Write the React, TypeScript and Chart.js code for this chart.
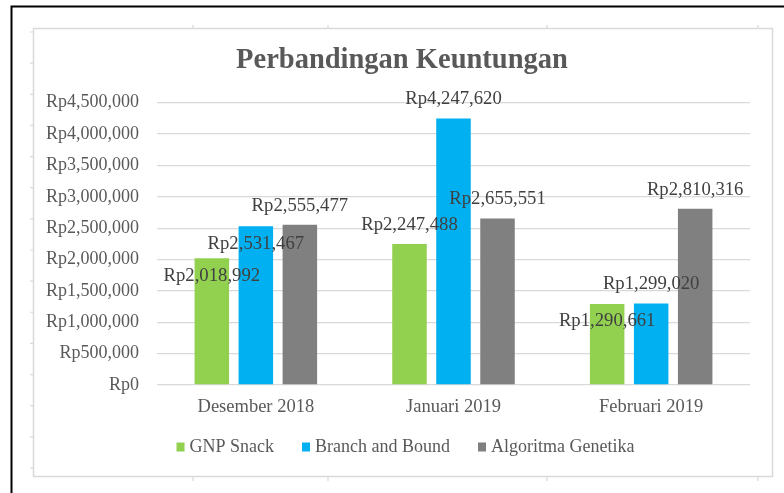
import React, { useEffect, useRef } from "react";
import { Chart, registerables } from "chart.js";

Chart.register(...registerables);

// ---- data ----
const categories = ["Desember 2018", "Januari 2019", "Februari 2019"];
const seriesNames = ["GNP Snack", "Branch and Bound", "Algoritma Genetika"];
const gnpSnack = [2018992, 2247488, 1290661];
const branchAndBound = [2531467, 4247620, 1299020];
const algoritmaGenetika = [2555477, 2655551, 2810316];
const yMin = 0;
const yMax = 4500000;
const yStep = 500000;
const chartTitle = "Perbandingan Keuntungan";

// ---- styling ----
const seriesColors = ["#92d050", "#00b0f0", "#808080"];
// data-label placement per series/category: "in" = inside end, "out" = outside end
const labelPlacement = [
  ["in", "out", "in"],
  ["in", "out", "out"],
  ["out", "out", "out"],
];
const FONT = "'Liberation Serif', 'Times New Roman', serif";
const TEXT_COLOR = "#595959";
const fmt = (v: number) => "Rp" + v.toLocaleString("en-US");

Chart.defaults.font.family = FONT;

const framePlugin = {
  id: "frameDecor",
  beforeDraw(chart: any) {
    const ctx = chart.ctx;
    ctx.save();
    ctx.fillStyle = "#ffffff";
    ctx.fillRect(0, 0, chart.width, chart.height);
    // inner light frame
    ctx.strokeStyle = "#d9d9d9";
    ctx.lineWidth = 1.5;
    ctx.strokeRect(33.5, 28.5, 739, 448);
    // small marks around frame
    ctx.lineWidth = 1.2;
    ctx.beginPath();
    for (let k = 0; k <= 14; k++) {
      const y = 32 + k * 31.14;
      ctx.moveTo(30, y);
      ctx.lineTo(33.5, y);
    }
    [193, 328, 547, 758].forEach((x) => {
      ctx.moveTo(x, 25);
      ctx.lineTo(x, 28.5);
      ctx.moveTo(x, 476.5);
      ctx.lineTo(x, 481);
    });
    ctx.stroke();
    // outer black border (top + left)
    ctx.strokeStyle = "#000000";
    ctx.lineWidth = 2;
    ctx.beginPath();
    ctx.moveTo(11.5, chart.height);
    ctx.lineTo(11.5, 6.5);
    ctx.lineTo(chart.width, 6.5);
    ctx.stroke();
    // title
    ctx.fillStyle = TEXT_COLOR;
    ctx.font = `bold 28.5px ${FONT}`;
    ctx.textAlign = "center";
    ctx.textBaseline = "middle";
    ctx.fillText(chartTitle, 402, 61);
    // legend (Excel-style spacing)
    ctx.font = `18px ${FONT}`;
    ctx.textAlign = "left";
    const box = 8, gapBoxText = 5, gapItem = 28, cy = 447;
    const widths = seriesNames.map((n) => ctx.measureText(n).width);
    const total =
      widths.reduce((s, w) => s + box + gapBoxText + w, 0) + gapItem * (seriesNames.length - 1);
    let x = 405.5 - total / 2;
    seriesNames.forEach((n, i) => {
      ctx.fillStyle = seriesColors[i];
      ctx.fillRect(x, cy - box / 2 - 0.5, box, box + 1);
      ctx.fillStyle = TEXT_COLOR;
      ctx.fillText(n, x + box + gapBoxText, cy);
      x += box + gapBoxText + widths[i] + gapItem;
    });
    ctx.restore();
  },
};

const labelPlugin = {
  id: "barLabels",
  afterDatasetsDraw(chart: any) {
    const ctx = chart.ctx;
    ctx.save();
    ctx.font = `18.7px ${FONT}`;
    ctx.fillStyle = "#404040";
    ctx.textAlign = "center";
    ctx.textBaseline = "middle";
    chart.data.datasets.forEach((ds: any, di: number) => {
      const meta = chart.getDatasetMeta(di);
      meta.data.forEach((el: any, i: number) => {
        const v = ds.data[i] as number;
        const place = labelPlacement[di][i];
        const y = place === "in" ? el.y + 17.5 : el.y - 19;
        ctx.fillText(fmt(v), el.x, y);
      });
    });
    ctx.restore();
  },
};

export default function App() {
  const canvasRef = useRef<HTMLCanvasElement | null>(null);

  useEffect(() => {
    let chart: Chart | null = null;
    let cancelled = false;
    const make = () => {
      if (cancelled || !canvasRef.current) return;
      const series = [gnpSnack, branchAndBound, algoritmaGenetika];
      chart = new Chart(canvasRef.current, {
        type: "bar",
        data: {
          labels: categories,
          datasets: series.map((d, i) => ({
            label: seriesNames[i],
            data: d,
            backgroundColor: seriesColors[i],
            borderWidth: 0,
            categoryPercentage: 0.668,
            barPercentage: 0.784,
          })),
        },
        options: {
          animation: false,
          responsive: false,
          maintainAspectRatio: false,
          layout: { padding: { left: 28, right: 34, top: 102.7, bottom: 63.8 } },
          plugins: {
            title: { display: false },
            legend: { display: false },
            tooltip: { enabled: false },
          },
          scales: {
            x: {
              grid: { display: false, drawTicks: false },
              border: { display: false },
              ticks: {
                color: TEXT_COLOR,
                padding: 11,
                maxRotation: 0,
                minRotation: 0,
                font: { family: FONT, size: 18.5 },
              },
            },
            y: {
              min: yMin,
              max: yMax,
              grid: { color: "#d9d9d9", lineWidth: 1.3, drawTicks: false },
              border: { display: false },
              ticks: {
                stepSize: yStep,
                color: TEXT_COLOR,
                padding: 18,
                font: { family: FONT, size: 18 },
                callback: (v: any) => fmt(Number(v)),
              },
            },
          },
        },
        plugins: [framePlugin, labelPlugin],
      });
    };
    const fonts: any = (document as any).fonts;
    if (fonts && fonts.load) {
      Promise.all([
        fonts.load(`18px "Liberation Serif"`),
        fonts.load(`bold 28px "Liberation Serif"`),
      ]).then(make, make);
    } else {
      make();
    }
    return () => {
      cancelled = true;
      if (chart) chart.destroy();
    };
  }, []);

  return (
    <div
      style={{
        position: "fixed",
        left: 0,
        top: 0,
        width: 784,
        height: 493,
        background: "#ffffff",
      }}
    >
      <canvas ref={canvasRef} width={784} height={493} style={{ display: "block" }} />
    </div>
  );
}
